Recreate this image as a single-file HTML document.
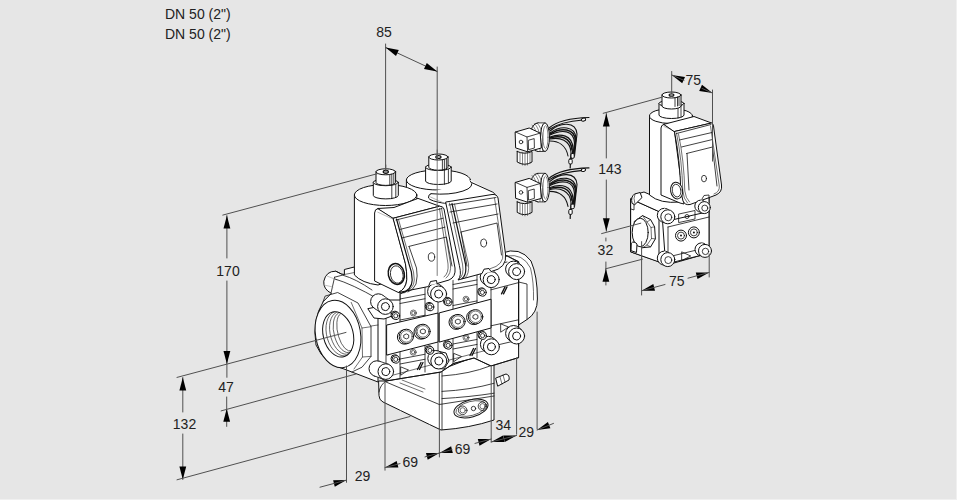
<!DOCTYPE html>
<html><head><meta charset="utf-8">
<style>
html,body{margin:0;padding:0;background:#e6e6e6;}
body{width:957px;height:500px;overflow:hidden;position:relative;}
svg{position:absolute;left:0;top:0;}
text{font-family:"Liberation Sans",sans-serif;font-size:14px;fill:#222;}
</style></head><body>
<svg width="957" height="500" viewBox="0 0 957 500" stroke-linejoin="round" stroke-linecap="round">
<rect x="956" y="0" width="1" height="500" fill="#f0f0f0"/>
<rect x="0" y="499" width="957" height="1" fill="#f0f0f0"/>
<text x="165" y="19" text-anchor="start">DN 50 (2")</text>
<text x="165" y="39" text-anchor="start">DN 50 (2")</text>
<path d="M631,199 L637,194 L660,205 L709,192 L709,253 L667,265 L660,262 L631,252 Z" stroke="#111" stroke-width="1" fill="#fff"/>
<path d="M631,199 L659,211.6 L659,262 L631,252 Z" stroke="#111" stroke-width="1" fill="#fff"/>
<path d="M631,209 L634,210 L634,203 M631,243.6 L634,244.5 L634,250" stroke="#111" stroke-width="0.8" fill="none"/>
<path d="M637,194 L644,192 L660,199 L700,190 L709,193 L709,212.4 L666.6,222.8 L659,211.6 L631,199 Z" stroke="#111" stroke-width="1" fill="#fff"/>
<path d="M663,222 L709,211.5 L709,253.3 L666,264 Z" stroke="#111" stroke-width="1" fill="#fff"/>
<path d="M668,227 L709,217 M668,227 L668,262 M668,257 L709,247" stroke="#111" stroke-width="0.8" fill="none"/>
<path d="M634.6,221.2 L642.6,215.6 L650.6,219.6 L654.6,226.8 L655.4,238.8 L650.6,246.9 L642.6,247.7 L634.6,242.8 Z" stroke="#111" stroke-width="1" fill="#fff"/>
<path d="M642.6,215.6 L647,222 L651,227.5 L651.5,238.5 L647,245 L642.6,247.7 M651,227.5 L654.6,226.8 M651.5,238.5 L655.4,238.8 M647,222 L650.6,219.6 M647,245 L650.6,246.9" stroke="#111" stroke-width="0.6" fill="none"/>
<ellipse cx="640.2" cy="232.5" rx="8" ry="14.3" stroke="#111" stroke-width="1" fill="#fff"/>
<circle cx="681" cy="235.6" r="5.5" stroke="#111" stroke-width="1" fill="#fff"/>
<circle cx="681" cy="235.6" r="3.5" stroke="#111" stroke-width="0.8" fill="none"/>
<circle cx="681" cy="235.6" r="1" fill="#111"/>
<circle cx="693.9" cy="232.4" r="5.5" stroke="#111" stroke-width="1" fill="#fff"/>
<circle cx="693.9" cy="232.4" r="3.5" stroke="#111" stroke-width="0.8" fill="none"/>
<circle cx="693.9" cy="232.4" r="1" fill="#111"/>
<path d="M682,252 L690.7,256 L682,260.5 Z" stroke="#111" stroke-width="0.8" fill="none"/>
<path d="M679,214 L695,210.5 L695,219 L679,222.5 Z" stroke="#111" stroke-width="0.8" fill="none"/>
<circle cx="687" cy="216.5" r="2" stroke="#111" stroke-width="0.8" fill="none"/>
<path d="M649.5,116 L649.5,195 Q660,204 680,202 L692.5,196 L692.5,116 Z" stroke="#111" stroke-width="1" fill="#fff"/>
<ellipse cx="671" cy="116" rx="21.5" ry="7.5" stroke="#111" stroke-width="1" fill="#fff"/>
<path d="M659,103.5 L659,115 A12.5,3.5 0 0 0 684,115 L684,103.5 Z" stroke="#111" stroke-width="1" fill="#fff"/>
<ellipse cx="671.5" cy="103.5" rx="12.5" ry="3.2" stroke="#111" stroke-width="1" fill="#fff"/>
<path d="M678,106 L678,118 M681,105 L681,117" stroke="#111" stroke-width="0.8" fill="none"/>
<path d="M662,95 L662,106 A9.5,3 0 0 0 681,106 L681,95 Z" stroke="#111" stroke-width="1" fill="#fff"/>
<ellipse cx="671.5" cy="95" rx="9.5" ry="3" stroke="#111" stroke-width="1" fill="#fff"/>
<path d="M675,97.5 L675,106.5 M677.5,97 L677.5,106 M679,96.5 L679,105.5" stroke="#111" stroke-width="0.8" fill="none"/>
<ellipse cx="671.5" cy="95" rx="2.4" ry="1.3" stroke="#111" stroke-width="1.1" fill="#bbb"/>
<path d="M664,124.3 Q661,125 661,128 L661,195 L680,203 L684,204 L674.5,131.5 Z" stroke="#111" stroke-width="1" fill="#fff"/>
<line x1="664" y1="126.5" x2="674.5" y2="131" stroke="#999" stroke-width="0.7"/>
<path d="M664,124.3 L694,116.5 L711.5,123 L674.5,131.5 Z" stroke="#111" stroke-width="1" fill="#fff"/>
<path d="M674.5,131.5 L711.5,123 Q713,123.5 713.5,126 L721.5,185 Q722.5,192 716,195 L707,198.4 L690,204.5 Q685,205.5 683,201 L680.8,191.2 Q680,160 674.5,131.5 Z" stroke="#111" stroke-width="1" fill="#fff"/>
<path d="M676.5,133 Q682,160 682.8,191 Q683.5,199 687.5,203 M678.5,134 Q684,160 684.8,191 Q685.5,198 689.5,202" stroke="#111" stroke-width="0.6" fill="none"/>
<path d="M710.5,126 L719.3,186 Q719.8,192 714,194" stroke="#111" stroke-width="0.6" fill="none"/>
<path d="M676.5,133.5 L711,124.5 M679.5,140 L712,132.5 M681.5,147 L712.5,139.5 M686.5,153.5 L712.5,147 L717,186 M687,153.5 L689,190" stroke="#111" stroke-width="0.8" fill="none"/>
<ellipse cx="704" cy="178.6" rx="2.5" ry="3.3" stroke="#111" stroke-width="0.8" fill="none"/>
<path d="M702,199 L704,195.5 L709,195 L709,198" stroke="#111" stroke-width="0.8" fill="none"/>
<line x1="712.5" y1="120" x2="712.5" y2="161" stroke="#707070" stroke-width="1"/>
<ellipse cx="676.6" cy="190.6" rx="6" ry="8.4" transform="rotate(-10 676.6 190.6)" stroke="#111" stroke-width="1" fill="#fff"/>
<ellipse cx="676.6" cy="190.6" rx="4.3" ry="6.4" transform="rotate(-10 676.6 190.6)" stroke="#111" stroke-width="0.8" fill="none"/>
<path d="M632,203 Q630.5,197 634.5,194 L640,192.5 L642,197.5 L635,204.5 Z" stroke="#111" stroke-width="1" fill="#fff"/>
<path d="M635,194 Q633,198 634.8,203.5" stroke="#111" stroke-width="0.6" fill="none"/>
<path d="M631.4,243 Q632,241.5 635,242.3 L637,244 L636.5,252.5 L631.4,250.8 Z" stroke="#111" stroke-width="1" fill="#fff"/>
<circle cx="664.3" cy="215.3" r="7" stroke="#111" stroke-width="1" fill="#fff"/>
<path d="M664.3,208.3 L667.8,209.8 L667.8,223.8 L664.3,222.3 Z" fill="#fff" stroke="none"/>
<circle cx="667.8" cy="216.8" r="7" stroke="#111" stroke-width="1" fill="#fff"/>
<circle cx="668.3" cy="217.3" r="3.5" stroke="#111" stroke-width="0.8" fill="none"/>
<circle cx="700.8" cy="206.1" r="6" stroke="#111" stroke-width="1" fill="#fff"/>
<path d="M700.8,200.1 L704.3,201.6 L704.3,213.6 L700.8,212.1 Z" fill="#fff" stroke="none"/>
<circle cx="704.3" cy="207.6" r="6" stroke="#111" stroke-width="1" fill="#fff"/>
<circle cx="704.8" cy="208.1" r="3.0" stroke="#111" stroke-width="0.8" fill="none"/>
<circle cx="664.3" cy="258.1" r="7" stroke="#111" stroke-width="1" fill="#fff"/>
<path d="M664.3,251.10000000000002 L667.8,252.60000000000002 L667.8,266.6 L664.3,265.1 Z" fill="#fff" stroke="none"/>
<circle cx="667.8" cy="259.6" r="7" stroke="#111" stroke-width="1" fill="#fff"/>
<circle cx="668.3" cy="260.1" r="3.5" stroke="#111" stroke-width="0.8" fill="none"/>
<circle cx="701.5" cy="249.4" r="6.5" stroke="#111" stroke-width="1" fill="#fff"/>
<path d="M701.5,242.9 L705,244.4 L705,257.4 L701.5,255.9 Z" fill="#fff" stroke="none"/>
<circle cx="705" cy="250.9" r="6.5" stroke="#111" stroke-width="1" fill="#fff"/>
<circle cx="705.5" cy="251.4" r="3.2" stroke="#111" stroke-width="0.8" fill="none"/>
<g id="conn">
<path d="M549,128 C556,122 568,118 589,117.5" stroke="#111" stroke-width="1.1" fill="none"/>
<path d="M549,129.5 C557,124 568,121 583,120" stroke="#111" stroke-width="1.1" fill="none"/>
<path d="M550,131 C560,122 576,121 577,134 L574.5,156" stroke="#111" stroke-width="1.1" fill="none"/>
<path d="M550,133 C561,125 575,126 576,138 L573.5,157" stroke="#111" stroke-width="1.1" fill="none"/>
<path d="M550,135 C562,129 574,130 574.5,143 L572.5,158" stroke="#111" stroke-width="1.1" fill="none"/>
<path d="M550,137 C561,133 572,135 573,148 L571.5,160" stroke="#111" stroke-width="1.1" fill="none"/>
<path d="M550,139 C560,137 570,140 571,152 L570.5,162" stroke="#111" stroke-width="1.1" fill="none"/>
<path d="M550,141 C558,141 566,145 568,156" stroke="#111" stroke-width="1.1" fill="none"/>
<path d="M550,134 C561,127 575,128 575.5,141 L573.5,157 M550,138 C560,135 571,137 572,150" stroke="#111" stroke-width="1.5" fill="none"/>
<ellipse cx="583.5" cy="119.6" rx="2.2" ry="1.5" transform="rotate(-15 583.5 119.6)" stroke="#111" stroke-width="1" fill="#fff"/>
<path d="M570.5,160 L570.2,168" stroke="#111" stroke-width="1.2"/>
<rect x="571" y="153.5" width="3.2" height="4.8" rx="1.2" stroke="#111" stroke-width="1" fill="#fff"/>
<rect x="568.8" y="159" width="3.4" height="5" rx="1.2" stroke="#111" stroke-width="1" fill="#fff"/>
<path d="M517.2,151.5 L517.2,162 Q524.5,166.5 532,162 L532,151.5 Q524.5,155 517.2,151.5 Z" stroke="#111" stroke-width="1" fill="#fff"/>
<path d="M520,153 L520,163.5 M522.5,153 L522.5,165 M525,153 L525,165.5 M527.5,153 L527.5,165 M530,153 L530,163.5" stroke="#333" stroke-width="0.6" fill="none"/>
<ellipse cx="538" cy="137.2" rx="8" ry="14.3" stroke="#111" stroke-width="1" fill="#fff"/>
<path d="M538,122.9 L545,122.9 L545,151.5 L538,151.5 Z" fill="#fff" stroke="none"/>
<path d="M538,122.9 L545,122.9 M538,151.5 L545,151.5" stroke="#111" stroke-width="0.8" fill="none"/>
<ellipse cx="545" cy="137.2" rx="4.5" ry="14.3" stroke="#111" stroke-width="1" fill="#fff"/>
<ellipse cx="545.5" cy="137.2" rx="2.5" ry="11.5" stroke="#333" stroke-width="0.6" fill="none"/>
<path d="M532,125 Q536,128 537,137 M534.5,123.6 Q539,128 540,137 L540,151 M537,123 Q541.5,127 542.5,137 L542.5,151.3" stroke="#333" stroke-width="0.6" fill="none"/>
<path d="M515.5,132 L529.2,128 L540.2,133.1 L541.3,148 L527.6,151.8 L516,148 Z" stroke="#111" stroke-width="1" fill="#fff"/>
<path d="M515.5,132 L527,137 L540.2,133.1 M527,137 L527.6,151.8" stroke="#111" stroke-width="0.8" fill="none"/>
<circle cx="521" cy="142" r="1.8" stroke="#111" stroke-width="0.8" fill="none"/>
<path d="M528.7,140.2 L534.2,138.6 L534.4,148 L528.9,149.6 Z" stroke="#111" stroke-width="0.8" fill="none"/>
</g>
<use href="#conn" transform="translate(0,50.4)"/>
<path d="M502,253 Q520,246 531,261 Q537.5,276 537.4,299 Q537.5,313 527,319.5 L518.6,325 L518.6,262 Z" stroke="#111" stroke-width="1" fill="#fff"/>
<path d="M507,256 Q523,253 530.5,268 Q534,282 533.5,300" stroke="#111" stroke-width="0.6" fill="none"/>
<path d="M518.6,282 L527,284 L527,319" stroke="#111" stroke-width="0.8" fill="none"/>
<path d="M379,381 L386,381 L440,370 L474,357 L494,358 L494,420 Q470,428 441,430 Q420,420 383,402 Q379,400 379,396 Z" stroke="#111" stroke-width="1" fill="#fff"/>
<path d="M386,382 L439.3,404.5 L494,396" stroke="#111" stroke-width="0.8" fill="none"/>
<path d="M439.3,372 L439.3,429" stroke="#111" stroke-width="0.8" fill="none"/>
<path d="M442,372 L442,429.5" stroke="#111" stroke-width="0.8" fill="none"/>
<path d="M442,376 Q470,374 490,366 M442,391.4 Q470,390 494,383.3 M442,398.6 Q470,397 494,393.2" stroke="#111" stroke-width="0.8" fill="none"/>
<path d="M402,380 L425,389 M400,383 L423,392" stroke="#111" stroke-width="0.6" fill="none"/>
<path d="M386,381 Q380,385 379,392" stroke="#111" stroke-width="0.8" fill="none"/>
<ellipse cx="471" cy="408.5" rx="17.5" ry="8.5" transform="rotate(-15 471 408.5)" stroke="#111" stroke-width="1" fill="#fff"/>
<ellipse cx="471" cy="408.5" rx="15.5" ry="7" transform="rotate(-15 471 408.5)" stroke="#111" stroke-width="0.6" fill="none"/>
<circle cx="462.7" cy="410.3" r="4.3" stroke="#111" stroke-width="0.8" fill="none"/><circle cx="462.7" cy="410.3" r="2.6" stroke="#111" stroke-width="0.6" fill="none"/>
<circle cx="473.5" cy="408.5" r="2.2" stroke="#111" stroke-width="0.8" fill="none"/>
<circle cx="482.5" cy="406.2" r="4.3" stroke="#111" stroke-width="0.8" fill="none"/><circle cx="482.5" cy="406.2" r="2.6" stroke="#111" stroke-width="0.6" fill="none"/>
<path d="M496,378 L506,374 Q510,375 509,380 L498,386 Z" stroke="#111" stroke-width="1" fill="#fff"/>
<path d="M503,375 L505,382 M500,377 L502,384" stroke="#111" stroke-width="0.6" fill="none"/>
<path d="M371,296 L386,288 L400,288 L455,272 L491,262 L507,256 L518.6,262 L518.6,357.6 L491,366 L474,358 L453.5,363.5 L441,372 L386,381 L371,373 Z" stroke="#111" stroke-width="1" fill="#fff"/>
<line x1="386" y1="292" x2="386" y2="380" stroke="#111" stroke-width="0.8"/>
<line x1="388" y1="325" x2="388" y2="355" stroke="#111" stroke-width="0.8"/>
<line x1="400" y1="288" x2="400" y2="378" stroke="#111" stroke-width="0.8"/>
<line x1="425" y1="283" x2="425" y2="372" stroke="#111" stroke-width="0.8"/>
<line x1="438" y1="282" x2="438" y2="368" stroke="#111" stroke-width="0.8"/>
<line x1="453" y1="276" x2="453" y2="364" stroke="#111" stroke-width="0.8"/>
<line x1="477" y1="270" x2="477" y2="358" stroke="#111" stroke-width="0.8"/>
<line x1="491" y1="266" x2="491" y2="353" stroke="#111" stroke-width="0.8"/>
<line x1="518.6" y1="262" x2="518.6" y2="346" stroke="#111" stroke-width="0.8"/>
<path d="M387,325 L438,313 L438,342 L387,355 Z" stroke="#111" stroke-width="1" fill="#fff"/>
<path d="M439.6,312.8 L491,299.2 L491,328 L439.6,342 Z" stroke="#111" stroke-width="1" fill="#fff"/>
<path d="M491,289.8 L518.6,282.6" stroke="#111" stroke-width="0.8" fill="none"/>
<path d="M491,325.8 L518.6,319.8" stroke="#111" stroke-width="0.8" fill="none"/>
<path d="M400,299 L425,294.25" stroke="#111" stroke-width="0.8" fill="none"/>
<path d="M400,303.5 L425,298.75" stroke="#111" stroke-width="0.8" fill="none"/>
<path d="M400,320 L425,315.25" stroke="#111" stroke-width="0.8" fill="none"/>
<path d="M453,284.5 L477,279.94" stroke="#111" stroke-width="0.8" fill="none"/>
<path d="M453,289.0 L477,284.44" stroke="#111" stroke-width="0.8" fill="none"/>
<path d="M453,305.5 L477,300.94" stroke="#111" stroke-width="0.8" fill="none"/>
<path d="M400,359 L425,354.25" stroke="#111" stroke-width="0.8" fill="none"/>
<path d="M400,364 L425,359.25" stroke="#111" stroke-width="0.8" fill="none"/>
<path d="M453,344 L477,339.44" stroke="#111" stroke-width="0.8" fill="none"/>
<path d="M453,349 L477,344.44" stroke="#111" stroke-width="0.8" fill="none"/>
<path d="M386,381 L441,372 L453.5,363.5 L474,358 L491,366 L518.6,357.6" stroke="#111" stroke-width="0.8" fill="none"/>
<path d="M491,346.5 L518.6,340" stroke="#111" stroke-width="0.8" fill="none"/>
<path d="M386,377 L438,363 L491,349" stroke="#111" stroke-width="0.6" fill="none"/>
<path d="M386,292 L400,288" stroke="#111" stroke-width="0.8" fill="none"/>
<path d="M438,282 L453,277" stroke="#111" stroke-width="0.8" fill="none"/>
<path d="M491,266 L507,262" stroke="#111" stroke-width="0.8" fill="none"/>
<path d="M331,293.2 Q323,289 323.8,281.2 Q326,271 335.8,271.2 L341.4,274 L344.4,274.5 L344.4,269.5 L354.2,267 L356,272 L400,290 L400,300 L378,300 L378,382 L344,369 Q325,365 316,345 Q312,320 323,302 Z" stroke="#111" stroke-width="1" fill="#fff"/>
<path d="M341.4,274 L335.8,271.2 M334.6,277.2 L331,293.2 M334.6,277.2 L343,275" stroke="#111" stroke-width="0.8" fill="none"/>
<path d="M327,276 L337,280 M324,285 L333,287" stroke="#999" stroke-width="0.6" fill="none"/>
<path d="M335,279 Q352,284 378,299 M343,275.2 Q356,279 372,290" stroke="#111" stroke-width="0.8" fill="none"/>
<path d="M344.4,274.5 L354.5,272.5" stroke="#111" stroke-width="0.6" fill="none"/>
<path d="M323,302 L325.1,296.1 L337.7,292.5 L358,303 L371,326.7 L371,356.4 L362,367.2 L352,372" stroke="#111" stroke-width="0.8" fill="none"/>
<path d="M351.2,302.4 L362,328 L362.5,357 L354,369" stroke="#111" stroke-width="0.6" fill="none"/>
<path d="M362,328 L371,326.7 M362.5,357 L371,356.4" stroke="#111" stroke-width="0.6" fill="none"/>
<ellipse cx="338" cy="334" rx="22.5" ry="34" transform="rotate(-10 338 334)" stroke="#111" stroke-width="1" fill="#fff"/>
<ellipse cx="338.2" cy="334.4" rx="15" ry="23" transform="rotate(-14 338.2 334.4)" stroke="#111" stroke-width="1" fill="#fff"/>
<path d="M339.8,311.5 A13,21 0 0 0 341.8,357.0" transform="rotate(-14 338.2 334.4)" stroke="#111" stroke-width="0.6" fill="none"/>
<path d="M341.6,312.7 A11,19.5 0 0 0 343.6,355.8" transform="rotate(-14 338.2 334.4)" stroke="#111" stroke-width="0.6" fill="none"/>
<path d="M343.4,313.9 A9,18 0 0 0 345.4,354.6" transform="rotate(-14 338.2 334.4)" stroke="#111" stroke-width="0.6" fill="none"/>
<path d="M345.2,315.1 A7,16.5 0 0 0 347.2,353.4" transform="rotate(-14 338.2 334.4)" stroke="#111" stroke-width="0.6" fill="none"/>
<path d="M371,326 L378,325" stroke="#111" stroke-width="0.6" fill="none"/>
<path d="M431,356 L437,351 L446,353 L449,361 L444,369 L435,368 Z" stroke="#111" stroke-width="1" fill="#fff"/>
<path d="M368,309 L374,318 L384,319 L392,316 L388,305 Z" stroke="#111" stroke-width="1" fill="#fff"/>
<circle cx="378.4" cy="301.6" r="7.8" stroke="#111" stroke-width="1" fill="#fff"/>
<path d="M389.9,300.3 L382.9,295.3 L373.9,307.9 L380.9,312.9Z" fill="#fff" stroke="none"/>
<path d="M389.9,300.3 L382.9,295.3 M373.9,307.9 L380.9,312.9" stroke="#111" stroke-width="0.8" fill="none"/>
<circle cx="385.4" cy="306.6" r="7.8" stroke="#111" stroke-width="1" fill="#fff"/>
<circle cx="385.4" cy="306.6" r="4" stroke="#111" stroke-width="1" fill="#fff"/>
<circle cx="376.8" cy="368.6" r="7.8" stroke="#111" stroke-width="1" fill="#fff"/>
<path d="M388.3,364.2 L379.3,361.2 L374.3,376.0 L383.3,379.0Z" fill="#fff" stroke="none"/>
<path d="M388.3,364.2 L379.3,361.2 M374.3,376.0 L383.3,379.0" stroke="#111" stroke-width="0.8" fill="none"/>
<circle cx="385.8" cy="371.6" r="7.8" stroke="#111" stroke-width="1" fill="#fff"/>
<circle cx="385.8" cy="371.6" r="4" stroke="#111" stroke-width="1" fill="#fff"/>
<circle cx="435.6" cy="291.5" r="8" stroke="#111" stroke-width="1" fill="#fff"/>
<path d="M443.7,287.9 L440.7,285.4 L430.5,297.6 L433.5,300.1Z" fill="#fff" stroke="none"/>
<path d="M443.7,287.9 L440.7,285.4 M430.5,297.6 L433.5,300.1" stroke="#111" stroke-width="0.8" fill="none"/>
<circle cx="438.6" cy="294" r="8" stroke="#111" stroke-width="1" fill="#fff"/>
<circle cx="438.6" cy="294" r="4" stroke="#111" stroke-width="1" fill="#fff"/>
<circle cx="488.2" cy="277.1" r="8" stroke="#111" stroke-width="1" fill="#fff"/>
<path d="M496.3,273.5 L493.3,271.0 L483.1,283.2 L486.1,285.7Z" fill="#fff" stroke="none"/>
<path d="M496.3,273.5 L493.3,271.0 M483.1,283.2 L486.1,285.7" stroke="#111" stroke-width="0.8" fill="none"/>
<circle cx="491.2" cy="279.6" r="8" stroke="#111" stroke-width="1" fill="#fff"/>
<circle cx="491.2" cy="279.6" r="4" stroke="#111" stroke-width="1" fill="#fff"/>
<circle cx="513.6" cy="269.1" r="8" stroke="#111" stroke-width="1" fill="#fff"/>
<path d="M521.7,265.5 L518.7,263.0 L508.5,275.2 L511.5,277.7Z" fill="#fff" stroke="none"/>
<path d="M521.7,265.5 L518.7,263.0 M508.5,275.2 L511.5,277.7" stroke="#111" stroke-width="0.8" fill="none"/>
<circle cx="516.6" cy="271.6" r="8" stroke="#111" stroke-width="1" fill="#fff"/>
<circle cx="516.6" cy="271.6" r="4" stroke="#111" stroke-width="1" fill="#fff"/>
<circle cx="435.8" cy="358.5" r="8" stroke="#111" stroke-width="1" fill="#fff"/>
<path d="M443.9,354.9 L440.9,352.4 L430.7,364.6 L433.7,367.1Z" fill="#fff" stroke="none"/>
<path d="M443.9,354.9 L440.9,352.4 M430.7,364.6 L433.7,367.1" stroke="#111" stroke-width="0.8" fill="none"/>
<circle cx="438.8" cy="361" r="8" stroke="#111" stroke-width="1" fill="#fff"/>
<circle cx="438.8" cy="361" r="4" stroke="#111" stroke-width="1" fill="#fff"/>
<circle cx="488.4" cy="344.3" r="8" stroke="#111" stroke-width="1" fill="#fff"/>
<path d="M496.5,340.7 L493.5,338.2 L483.3,350.4 L486.3,352.9Z" fill="#fff" stroke="none"/>
<path d="M496.5,340.7 L493.5,338.2 M483.3,350.4 L486.3,352.9" stroke="#111" stroke-width="0.8" fill="none"/>
<circle cx="491.4" cy="346.8" r="8" stroke="#111" stroke-width="1" fill="#fff"/>
<circle cx="491.4" cy="346.8" r="4" stroke="#111" stroke-width="1" fill="#fff"/>
<circle cx="513.6" cy="333.5" r="8" stroke="#111" stroke-width="1" fill="#fff"/>
<path d="M521.7,329.9 L518.7,327.4 L508.5,339.6 L511.5,342.1Z" fill="#fff" stroke="none"/>
<path d="M521.7,329.9 L518.7,327.4 M508.5,339.6 L511.5,342.1" stroke="#111" stroke-width="0.8" fill="none"/>
<circle cx="516.6" cy="336" r="8" stroke="#111" stroke-width="1" fill="#fff"/>
<circle cx="516.6" cy="336" r="4" stroke="#111" stroke-width="1" fill="#fff"/>
<circle cx="394.8" cy="315.0" r="3.8" stroke="#111" stroke-width="1" fill="#fff"/>
<circle cx="395.8" cy="315.8" r="3.8" stroke="#111" stroke-width="1" fill="#fff"/>
<circle cx="395.8" cy="315.8" r="2.1" stroke="#111" stroke-width="0.8" fill="none"/>
<circle cx="429" cy="306.2" r="3.8" stroke="#111" stroke-width="1" fill="#fff"/>
<circle cx="430" cy="307" r="3.8" stroke="#111" stroke-width="1" fill="#fff"/>
<circle cx="430" cy="307" r="2.1" stroke="#111" stroke-width="0.8" fill="none"/>
<circle cx="447.2" cy="301.2" r="3.8" stroke="#111" stroke-width="1" fill="#fff"/>
<circle cx="448.2" cy="302" r="3.8" stroke="#111" stroke-width="1" fill="#fff"/>
<circle cx="448.2" cy="302" r="2.1" stroke="#111" stroke-width="0.8" fill="none"/>
<circle cx="481.4" cy="291.59999999999997" r="3.8" stroke="#111" stroke-width="1" fill="#fff"/>
<circle cx="482.4" cy="292.4" r="3.8" stroke="#111" stroke-width="1" fill="#fff"/>
<circle cx="482.4" cy="292.4" r="2.1" stroke="#111" stroke-width="0.8" fill="none"/>
<circle cx="394.8" cy="358.59999999999997" r="3.8" stroke="#111" stroke-width="1" fill="#fff"/>
<circle cx="395.8" cy="359.4" r="3.8" stroke="#111" stroke-width="1" fill="#fff"/>
<circle cx="395.8" cy="359.4" r="2.1" stroke="#111" stroke-width="0.8" fill="none"/>
<circle cx="429" cy="349.59999999999997" r="3.8" stroke="#111" stroke-width="1" fill="#fff"/>
<circle cx="430" cy="350.4" r="3.8" stroke="#111" stroke-width="1" fill="#fff"/>
<circle cx="430" cy="350.4" r="2.1" stroke="#111" stroke-width="0.8" fill="none"/>
<circle cx="447.2" cy="344.59999999999997" r="3.8" stroke="#111" stroke-width="1" fill="#fff"/>
<circle cx="448.2" cy="345.4" r="3.8" stroke="#111" stroke-width="1" fill="#fff"/>
<circle cx="448.2" cy="345.4" r="2.1" stroke="#111" stroke-width="0.8" fill="none"/>
<circle cx="481.6" cy="334.8" r="3.8" stroke="#111" stroke-width="1" fill="#fff"/>
<circle cx="482.6" cy="335.6" r="3.8" stroke="#111" stroke-width="1" fill="#fff"/>
<circle cx="482.6" cy="335.6" r="2.1" stroke="#111" stroke-width="0.8" fill="none"/>
<circle cx="413.4" cy="313" r="3" stroke="#111" stroke-width="0.6" fill="none"/><circle cx="413.4" cy="313" r="1.7" stroke="#111" stroke-width="0.6" fill="none"/>
<circle cx="466" cy="299.2" r="3" stroke="#111" stroke-width="0.6" fill="none"/><circle cx="466" cy="299.2" r="1.7" stroke="#111" stroke-width="0.6" fill="none"/>
<circle cx="413.2" cy="352.2" r="3" stroke="#111" stroke-width="0.6" fill="none"/><circle cx="413.2" cy="352.2" r="1.7" stroke="#111" stroke-width="0.6" fill="none"/>
<circle cx="466" cy="337.6" r="3" stroke="#111" stroke-width="0.6" fill="none"/><circle cx="466" cy="337.6" r="1.7" stroke="#111" stroke-width="0.6" fill="none"/>
<circle cx="404.59999999999997" cy="337.0" r="7.2" stroke="#111" stroke-width="1" fill="#fff"/>
<circle cx="406.4" cy="336.4" r="7.2" stroke="#111" stroke-width="1" fill="#fff"/>
<circle cx="406.4" cy="336.4" r="5.8" stroke="#111" stroke-width="0.6" fill="none"/>
<path d="M404.1,335.0 L406.4,333.9 L408.7,335.0 L408.7,337.8 L406.4,338.9 L404.1,337.8 Z" stroke="#111" stroke-width="0.8" fill="none"/>
<circle cx="421.2" cy="332.0" r="7.2" stroke="#111" stroke-width="1" fill="#fff"/>
<circle cx="423" cy="331.4" r="7.2" stroke="#111" stroke-width="1" fill="#fff"/>
<circle cx="423" cy="331.4" r="5.8" stroke="#111" stroke-width="0.6" fill="none"/>
<path d="M420.7,330.0 L423.0,328.9 L425.3,330.0 L425.3,332.8 L423.0,333.9 L420.7,332.8 Z" stroke="#111" stroke-width="0.8" fill="none"/>
<circle cx="456.2" cy="322.20000000000005" r="7.2" stroke="#111" stroke-width="1" fill="#fff"/>
<circle cx="458" cy="321.6" r="7.2" stroke="#111" stroke-width="1" fill="#fff"/>
<circle cx="458" cy="321.6" r="5.8" stroke="#111" stroke-width="0.6" fill="none"/>
<path d="M455.7,320.2 L458.0,319.1 L460.3,320.2 L460.3,323.0 L458.0,324.1 L455.7,323.0 Z" stroke="#111" stroke-width="0.8" fill="none"/>
<circle cx="473.8" cy="317.40000000000003" r="7.2" stroke="#111" stroke-width="1" fill="#fff"/>
<circle cx="475.6" cy="316.8" r="7.2" stroke="#111" stroke-width="1" fill="#fff"/>
<circle cx="475.6" cy="316.8" r="5.8" stroke="#111" stroke-width="0.6" fill="none"/>
<path d="M473.3,315.4 L475.6,314.3 L477.9,315.4 L477.9,318.2 L475.6,319.3 L473.3,318.2 Z" stroke="#111" stroke-width="0.8" fill="none"/>
<path d="M401,367 L408.5,370 L401,375 Z" stroke="#111" stroke-width="0.8" fill="none"/>
<path d="M454,353.5 L461.5,356.5 L454,361.5 Z" stroke="#111" stroke-width="0.8" fill="none"/>
<path d="M501,324 L508.5,327 L501,332 Z" stroke="#111" stroke-width="0.8" fill="none"/>
<path d="M417.5,369.5 L421,362.5 M419.5,369.5 L423,362.5" stroke="#111" stroke-width="1.3" fill="none"/>
<path d="M470.0,355.5 L473.5,348.5 M472.0,355.5 L475.5,348.5" stroke="#111" stroke-width="1.3" fill="none"/>
<path d="M501.5,293.9 L505,286.9 M503.5,293.9 L507,286.9" stroke="#111" stroke-width="1.3" fill="none"/>
<path d="M406.4,180 L406.4,290 L500,270 L470.4,180 Z" fill="#fff" stroke="none"/>
<path d="M406.4,180 L406.4,200 M470.4,180 L470.4,192" stroke="#111" stroke-width="1" fill="#fff"/>
<ellipse cx="438.4" cy="180" rx="32" ry="10" stroke="#111" stroke-width="1" fill="#fff"/>
<path d="M425.59999999999997,167.2 L425.59999999999997,181 A12.8,3.5 0 0 0 451.2,181 L451.2,167.2 Z" stroke="#111" stroke-width="1" fill="#fff"/>
<ellipse cx="438.4" cy="167.2" rx="12.8" ry="3.3" stroke="#111" stroke-width="1" fill="#fff"/>
<path d="M444.4,170.39999999999998 L444.4,184.3 M448.4,169.5 L448.4,182.8" stroke="#111" stroke-width="0.8" fill="none"/>
<path d="M428.79999999999995,157 L428.79999999999995,167.2 A9.6,3 0 0 0 448.0,167.2 L448.0,157 Z" stroke="#111" stroke-width="1" fill="#fff"/>
<ellipse cx="438.4" cy="157" rx="9.6" ry="3" stroke="#111" stroke-width="1" fill="#fff"/>
<path d="M442.4,159.8 L442.4,170.0 M446.4,158.8 L446.4,169.0 M444.4,159.5 L444.4,169.7" stroke="#111" stroke-width="0.8" fill="none"/>
<ellipse cx="438.4" cy="157" rx="2.6" ry="1.5" stroke="#111" stroke-width="1.2" fill="#bbb"/>
<path d="M354.4,195 L354.4,275 Q362,283 378,285 L417,272 L416.8,195 Z" stroke="#111" stroke-width="1" fill="#fff"/>
<ellipse cx="385.6" cy="195" rx="31.2" ry="10.5" stroke="#111" stroke-width="1" fill="#fff"/>
<path d="M373.3,182.4 L373.3,195.4 A12.5,3.5 0 0 0 398.3,195.4 L398.3,182.4 Z" stroke="#111" stroke-width="1" fill="#fff"/>
<ellipse cx="385.8" cy="182.4" rx="12.5" ry="3.3" stroke="#111" stroke-width="1" fill="#fff"/>
<path d="M391.8,185.6 L391.8,198.70000000000002 M395.8,184.70000000000002 L395.8,197.20000000000002" stroke="#111" stroke-width="0.8" fill="none"/>
<path d="M376.0,171.8 L376.0,182.4 A9.8,3 0 0 0 395.6,182.4 L395.6,171.8 Z" stroke="#111" stroke-width="1" fill="#fff"/>
<ellipse cx="385.8" cy="171.8" rx="9.8" ry="3" stroke="#111" stroke-width="1" fill="#fff"/>
<path d="M389.8,174.60000000000002 L389.8,185.20000000000002 M393.8,173.60000000000002 L393.8,184.20000000000002 M391.8,174.3 L391.8,184.9" stroke="#111" stroke-width="0.8" fill="none"/>
<ellipse cx="385.8" cy="171.8" rx="2.6" ry="1.5" stroke="#111" stroke-width="1.2" fill="#bbb"/>
<path d="M428,197.5 L429,193 L470.4,180 L492.8,192.2 Q495.5,193.5 495.2,195.5 L446,203.6 Z" fill="#fff" stroke="none"/>
<path d="M431,193.7 Q428,194.5 428.5,198 Q429.5,201 446,203.6 M470.4,182 L492.8,192.2 Q495.5,193.5 495.2,195.5" stroke="#111" stroke-width="1" fill="#fff"/>
<path d="M431,193.7 A32,10 0 0 0 470.4,181" stroke="#111" stroke-width="1" fill="#fff"/>
<path d="M430.5,197 L446,204" stroke="#999" stroke-width="0.7"/>
<path d="M446,202 L492,194.5 Q497,194 498,198 L505.5,254 Q507.5,268 491,271.6 L489,268.5 L484,269.2 L482,273.5 L458,280 Q462,276 459.5,266 Z" stroke="#111" stroke-width="1" fill="#fff"/>
<path d="M449.5,203 L462.5,264 Q464.5,276 459,279 M454.5,204 L468.5,264 Q469.5,274 465,278" stroke="#111" stroke-width="0.6" fill="none"/>
<path d="M452,203.5 L465.5,264 Q467,275 462,278.5" stroke="#111" stroke-width="1.2" fill="none"/>
<path d="M494.5,198 L502.8,253 Q504.5,265 490,268.8" stroke="#111" stroke-width="0.6" fill="none"/>
<path d="M449,205 L496,197.5 M450,212 L497,204 M453,223 L498,214 M461,232 L497,223 L501.5,255 M461,232 L467,266" stroke="#111" stroke-width="0.8" fill="none"/>
<ellipse cx="483.6" cy="243" rx="3" ry="4" stroke="#111" stroke-width="0.8" fill="none"/>
<path d="M378,208.5 Q374.6,209 374.6,213 L374.6,281 L398.4,292.5 Q406,289 406.8,279.6 Q407,272 405.5,264 L393.4,218.2 Z" stroke="#111" stroke-width="1" fill="#fff"/>
<path d="M377.8,212.2 L392.2,218.8" stroke="#999" stroke-width="0.7"/>
<path d="M378,208.5 L394,207.5 L418,198.4 L439.6,206.2 L393.4,218.2 Z" stroke="#111" stroke-width="1" fill="#fff"/>
<path d="M393.4,218.2 L439.6,206.2 Q443,206 444,209 L455,268 Q456,277 449,280 L437,283.5 L436.5,280.5 L430.5,281.5 L428.5,286.5 L398.4,292.5 Q406,289 406.8,279.6 Q407,272 405.5,264 Z" stroke="#111" stroke-width="1" fill="#fff"/>
<path d="M398.5,219.5 L411.2,264 Q414.3,272 414.3,280 Q414,289 404,293" stroke="#111" stroke-width="0.6" fill="none"/>
<path d="M441.5,208 L450.5,264 Q451.5,274 446,278 M439.5,208.5 L448,264 Q449,273 444,277" stroke="#111" stroke-width="0.6" fill="none"/>
<path d="M396,220 L442,208.5 M399.4,229.6 L443.2,218.2 M401.8,238 L445,227.2 M409,246.4 L446.4,237 L452,266 M409,246.4 L416.5,268 Q418,276 416,284 Q413.5,290 408,292" stroke="#111" stroke-width="0.8" fill="none"/>
<ellipse cx="431.5" cy="257" rx="3.2" ry="4.2" stroke="#111" stroke-width="0.8" fill="none"/>
<path d="M396.5,219 L409,264 Q412.2,272 412.2,280 Q412,290 401,293.4" stroke="#111" stroke-width="1.2" fill="none"/>
<ellipse cx="396.3" cy="274" rx="8" ry="10.5" transform="rotate(-12 396.3 274)" stroke="#111" stroke-width="1.5" fill="#fff"/>
<ellipse cx="396.8" cy="274.5" rx="6.3" ry="8.8" transform="rotate(-12 396.8 274.5)" stroke="#111" stroke-width="0.8" fill="none"/>
<line x1="437.2" y1="150" x2="437.2" y2="275.5" stroke="#707070" stroke-width="0.9"/>
<line x1="385.9" y1="165" x2="385.9" y2="172" stroke="#707070" stroke-width="0.9"/>
<line x1="385.6" y1="44" x2="385.6" y2="170" stroke="#505050" stroke-width="1"/>
<line x1="437.2" y1="67" x2="437.2" y2="160" stroke="#505050" stroke-width="1"/>
<line x1="385.6" y1="47.5" x2="437.2" y2="71.5" stroke="#505050" stroke-width="1"/>
<polygon points="385.6,47.5 398.8,49.9 396.0,56.1" fill="#000"/>
<polygon points="437.2,71.5 424.0,69.1 426.8,62.9" fill="#000"/>
<text x="384" y="37" text-anchor="middle">85</text>
<line x1="222.8" y1="215.1" x2="377.7" y2="173.6" stroke="#505050" stroke-width="1"/>
<line x1="226.9" y1="215.6" x2="226.9" y2="258" stroke="#505050" stroke-width="1"/>
<line x1="226.9" y1="281" x2="226.9" y2="377.3" stroke="#505050" stroke-width="1"/>
<polygon points="226.9,215.6 230.3,228.6 223.5,228.6" fill="#000"/>
<polygon points="226.9,364.0 223.5,351.0 230.3,351.0" fill="#000"/>
<text x="228" y="276" text-anchor="middle">170</text>
<line x1="177" y1="377.4" x2="346" y2="332.4" stroke="#505050" stroke-width="1"/>
<line x1="226.7" y1="397" x2="226.7" y2="426.4" stroke="#505050" stroke-width="1"/>
<polygon points="226.7,408.8 230.1,421.8 223.3,421.8" fill="#000"/>
<line x1="221.1" y1="410.9" x2="356" y2="374" stroke="#505050" stroke-width="1"/>
<text x="226" y="392" text-anchor="middle">47</text>
<line x1="182.8" y1="377.5" x2="182.8" y2="412" stroke="#505050" stroke-width="1"/>
<line x1="182.8" y1="434" x2="182.8" y2="479.5" stroke="#505050" stroke-width="1"/>
<polygon points="182.8,377.5 186.2,390.5 179.4,390.5" fill="#000"/>
<polygon points="182.8,479.5 179.4,466.5 186.2,466.5" fill="#000"/>
<line x1="177" y1="479.8" x2="410" y2="416.5" stroke="#505050" stroke-width="1"/>
<text x="184.5" y="429" text-anchor="middle">132</text>
<line x1="346.5" y1="366" x2="346.5" y2="482.3" stroke="#505050" stroke-width="1"/>
<line x1="385" y1="381" x2="385" y2="470.2" stroke="#505050" stroke-width="1"/>
<line x1="439.4" y1="429" x2="439.4" y2="457" stroke="#505050" stroke-width="1"/>
<line x1="491.2" y1="367" x2="491.2" y2="442" stroke="#505050" stroke-width="1"/>
<line x1="516.6" y1="358" x2="516.6" y2="434.3" stroke="#505050" stroke-width="1"/>
<line x1="537.1" y1="312" x2="537.1" y2="429" stroke="#505050" stroke-width="1"/>
<polygon points="346.5,480.1 334.8,486.7 333.1,480.2" fill="#000"/>
<line x1="320" y1="487.2" x2="346.5" y2="480.1" stroke="#505050" stroke-width="1"/>
<polygon points="385.0,467.6 396.7,460.9 398.4,467.5" fill="#000"/>
<polygon points="439.4,453.0 427.7,459.7 426.0,453.1" fill="#000"/>
<line x1="385" y1="467.6" x2="400" y2="463.6" stroke="#505050" stroke-width="1"/>
<line x1="425" y1="456.9" x2="439.4" y2="453" stroke="#505050" stroke-width="1"/>
<polygon points="439.4,453.0 451.1,446.3 452.8,452.9" fill="#000"/>
<polygon points="491.2,439.0 479.5,445.7 477.8,439.1" fill="#000"/>
<line x1="439.4" y1="453" x2="452" y2="449.6" stroke="#505050" stroke-width="1"/>
<line x1="475" y1="443.4" x2="491.2" y2="439" stroke="#505050" stroke-width="1"/>
<polygon points="491.2,442.0 503.0,435.5 504.6,442.1" fill="#000"/>
<polygon points="516.6,435.5 504.8,442.0 503.2,435.4" fill="#000"/>
<line x1="491.2" y1="442" x2="516.6" y2="435.5" stroke="#505050" stroke-width="1"/>
<polygon points="537.1,430.0 547.9,422.0 550.4,428.3" fill="#000"/>
<line x1="537.1" y1="430" x2="553.5" y2="423.4" stroke="#505050" stroke-width="1"/>
<text x="362.5" y="481" text-anchor="middle">29</text>
<text x="410.3" y="467.3" text-anchor="middle">69</text>
<text x="462.5" y="454.1" text-anchor="middle">69</text>
<text x="503.2" y="430" text-anchor="middle">34</text>
<text x="526.2" y="436.5" text-anchor="middle">29</text>
<line x1="671.7" y1="71.5" x2="671.7" y2="93" stroke="#505050" stroke-width="1"/>
<line x1="712.5" y1="90" x2="712.5" y2="160.9" stroke="#505050" stroke-width="1"/>
<polygon points="671.7,74.9 685.0,77.1 682.2,83.3" fill="#000"/>
<polygon points="712.5,93.1 699.2,90.9 702.0,84.7" fill="#000"/>
<line x1="671.7" y1="74.9" x2="684" y2="80.4" stroke="#505050" stroke-width="1"/>
<line x1="702" y1="88.4" x2="712.5" y2="93.1" stroke="#505050" stroke-width="1"/>
<text x="693.2" y="85.2" text-anchor="middle">75</text>
<line x1="603.2" y1="113.3" x2="662" y2="97.2" stroke="#505050" stroke-width="1"/>
<line x1="606.3" y1="113.5" x2="606.3" y2="158" stroke="#505050" stroke-width="1"/>
<line x1="606.3" y1="180" x2="606.3" y2="231.2" stroke="#505050" stroke-width="1"/>
<polygon points="606.3,113.5 609.7,126.5 602.9,126.5" fill="#000"/>
<polygon points="606.3,231.2 602.9,218.2 609.7,218.2" fill="#000"/>
<text x="609.9" y="174.1" text-anchor="middle">143</text>
<line x1="601.6" y1="233.6" x2="640.8" y2="223.2" stroke="#505050" stroke-width="1"/>
<line x1="605.6" y1="268.8" x2="642.4" y2="259.2" stroke="#505050" stroke-width="1"/>
<line x1="605.9" y1="238" x2="605.9" y2="241" stroke="#505050" stroke-width="1"/>
<line x1="605.9" y1="262" x2="605.9" y2="285" stroke="#505050" stroke-width="1"/>
<polygon points="605.9,268.8 609.3,281.8 602.5,281.8" fill="#000"/>
<text x="605.4" y="255.2" text-anchor="middle">32</text>
<line x1="641.6" y1="241.6" x2="641.6" y2="295" stroke="#505050" stroke-width="1"/>
<line x1="709.2" y1="254" x2="709.2" y2="277" stroke="#505050" stroke-width="1"/>
<polygon points="641.6,290.8 653.3,284.1 655.0,290.7" fill="#000"/>
<polygon points="709.2,272.4 697.5,279.1 695.8,272.5" fill="#000"/>
<line x1="641.6" y1="290.8" x2="665" y2="284.5" stroke="#505050" stroke-width="1"/>
<line x1="688" y1="278.2" x2="709.2" y2="272.4" stroke="#505050" stroke-width="1"/>
<text x="676.8" y="286" text-anchor="middle">75</text>
</svg>
</body></html>
